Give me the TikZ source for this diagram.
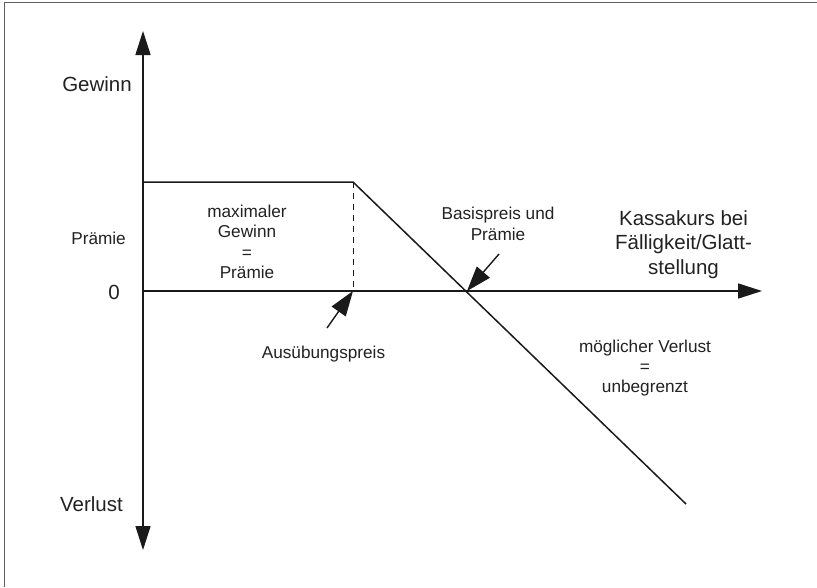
\documentclass[tikz,border=0pt]{standalone}
\usepackage{fontspec}
\setmainfont{Liberation Sans}
\usetikzlibrary{arrows.meta}
\definecolor{ink}{HTML}{1A1A1A}
\definecolor{txt}{HTML}{222222}
\definecolor{framec}{HTML}{606060}
\begin{document}
\begin{tikzpicture}[x=1pt,y=-1pt,
  axis/.style={line width=1.6pt, draw=ink, -{Triangle[length=24pt,width=15pt]}},
  curve/.style={line width=1.5pt, draw=ink},
  pointer/.style={line width=1.4pt, draw=ink, -{Triangle[length=25pt,width=17pt]}},
  guide/.style={line width=0.9pt, draw=ink, dash pattern=on 6pt off 5pt},
  frame/.style={line width=1.3pt, draw=framec},
  big/.style={text=txt, inner sep=0pt, align=center, font=\fontsize{20.5}{24.3}\selectfont},
  small/.style={text=txt, inner sep=0pt, align=center, font=\fontsize{17.2}{20.3}\selectfont}]
\useasboundingbox (0,0) rectangle (817,587);
\fill[white] (0,0) rectangle (817,587);
\draw[frame] (4.5,587) -- (4.5,2.5) -- (817,2.5);

% axes
\coordinate (O) at (143,291);
\coordinate (ytop) at (143,31);
\coordinate (ybot) at (143,550);
\coordinate (xend) at (762,291);
\draw[axis] (O) -- (ytop);
\draw[axis] (O) -- (ybot);
\draw[axis] (O) -- (xend);

% payoff profile
\coordinate (P0) at (143,182);
\coordinate (K) at (353,182);
\coordinate (Kb) at (353,291);
\coordinate (B) at (467,291);
\coordinate (E) at (686,504);
\draw[curve] (P0) -- (K) -- (E);
\draw[guide] (K) -- (Kb);

% labels (base anchor of a multi-line node = baseline of its last line)
\node[big, anchor=base east] (gew) at (132,91.5) {Gewinn};
\node[big, anchor=base east] (ver) at (123,511.7) {Verlust};
\node[big, anchor=base east] (null) at (120,299.3) {0};
\node[small, anchor=base east] (praem) at (126,244) {Prämie};
\node[big, anchor=base] (kas) at (683.5,274) {Kassakurs bei\\Fälligkeit/Glatt-\\stellung};
\node[small, anchor=base] (maxg) at (247,278.3) {maximaler\\Gewinn\\=\\Prämie};
\node[small, anchor=base] (aus) at (323.5,358.3) {Ausübungspreis};
\node[small, anchor=base] (bas) at (498,240) {Basispreis und\\Prämie};
\node[small, anchor=base] (verl) at (645,392.7) {möglicher Verlust\\=\\unbegrenzt};

% pointers
\coordinate (ta) at (327,328);
\coordinate (tb) at (499,254);
\draw[pointer] (ta) -- (Kb);
\draw[pointer] (tb) -- (B);
\end{tikzpicture}
\end{document}
